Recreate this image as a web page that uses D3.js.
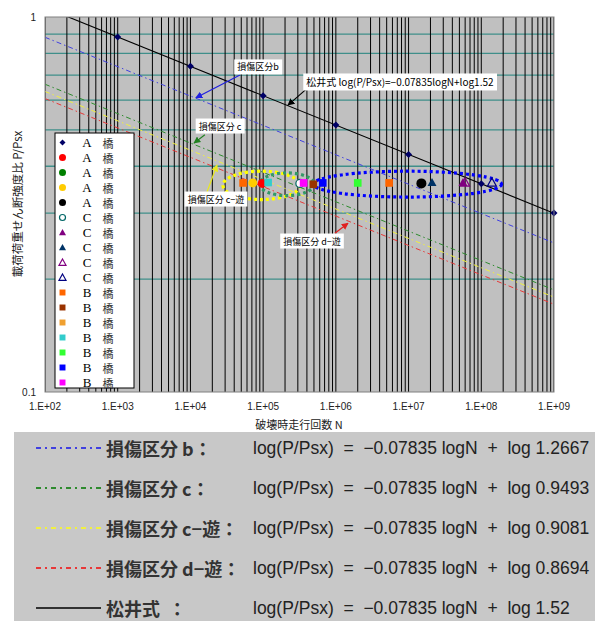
<!DOCTYPE html>
<html><head><meta charset="utf-8">
<script src="https://cdn.jsdelivr.net/npm/d3@7"></script>
<style>body{margin:0;background:#fff}svg{display:block}</style>
</head><body>
<svg id="chart" width="595" height="621"></svg>
<script>
// ---------------- data ----------------
const xTickValues = [1e2, 1e3, 1e4, 1e5, 1e6, 1e7, 1e8, 1e9];
const xTickLabels = ["1.E+02", "1.E+03", "1.E+04", "1.E+05", "1.E+06", "1.E+07", "1.E+08", "1.E+09"];
const yTickValues = [0.1, 1];
const yTickLabels = ["0.1", "1"];
const yGridValues = [0.2, 0.3, 0.4, 0.5, 0.6, 0.7, 0.8, 0.9];

const slope = -0.07835;
const lineNames = ["損傷区分 b", "損傷区分 c", "損傷区分 c−遊", "損傷区分 d−遊", "松井式  "];
const lineCoefs = [1.2667, 0.9493, 0.9081, 0.8694, 1.52];
const lineCoefLabels = ["1.2667", "0.9493", "0.9081", "0.8694", "1.52"];
const lineRangeN = [1e2, 1e9];

// Matsui marker points (legend series 1, "A 橋")
const matsuiN = [1e3, 1e4, 1e5, 1e6, 1e7, 1e8, 1e9];
const matsuiP = [0.885, 0.739, 0.617, 0.515, 0.430, 0.359, 0.300];

const legendBridge = ["A", "A", "A", "A", "A", "C", "C", "C", "C", "C", "B", "B", "B", "B", "B", "B", "B"];

// scatter points: series index (into legend), N, P
const pointSeries = [10, 3, 1, 13, 5, 16, 11, 15, 14, 10, 4, 7, 6, 8, 9];
const pointN = [5.3e4, 7.2e4, 9.7e4, 1.17e5, 3.2e5, 3.6e5, 4.9e5, 6.6e5, 2.0e6, 5.4e6, 1.5e7, 2.1e7, 5.6e7, 6.0e7, 1.4e8];
const pointP = [0.361, 0.361, 0.360, 0.362, 0.360, 0.361, 0.358, 0.361, 0.361, 0.361, 0.360, 0.362, 0.362, 0.362, 0.362];

// dotted group ellipses (N range, P range)
const ellipseN = [[2.8e4, 3.2e5], [9.0e4, 5.0e5], [4.9e5, 1.9e8]];
const ellipseP = [[0.326, 0.388], [0.334, 0.384], [0.331, 0.388]];

// annotation callouts: text, text centre (N,P), arrow start (N,P), arrow tip (N,P)
const annText = ["損傷区分b", "損傷区分 c", "損傷区分 c−遊", "損傷区分 d−遊", "松井式 log(P/Psx)=−0.07835logN+log1.52"];
const annAt = [[8.5e4, 0.736], [2.55e4, 0.512], [2.25e4, 0.327], [4.7e5, 0.2527], [7.6e6, 0.671]];
const annFrom = [[4.8e4, 0.700], [1.58e4, 0.485], [1.69e4, 0.3415], [9.7e5, 0.265], [4.1e5, 0.647]];
const annTo = [[1.19e4, 0.609], [1.12e4, 0.461], [2.32e4, 0.403], [1.47e6, 0.282], [2.2e5, 0.582]];

// ---------------- styles ----------------
const lineColors = ["#4040e0", "#2e8b2e", "#f0f040", "#e83838", "#000000"];
const lineDash = ["5,3,1.5,3", "5,3,1.5,3", "5,3,1.5,3", "5,3,1.5,3", null];
const seriesShape = ["diamond", "circle", "circle", "circle", "circle", "ocircle", "triangle", "triangle", "otriangle", "otriangle",
  "square", "square", "square", "square", "square", "square", "square"];
const seriesColor = ["#000066", "#ff0000", "#008000", "#ffcc00", "#000000", "#006666", "#800080", "#003366", "#800080", "#000080",
  "#ff6600", "#993300", "#f0a030", "#33cccc", "#33ff33", "#0000ff", "#ff00ff"];
const ellipseColor = ["#ffff00", "#339966", "#0000ff"];
const annColor = ["#2020e0", "#208020", "#e8e820", "#e02020", "#000000"];

// ---------------- chart ----------------
const svg = d3.select("#chart");
const L = 45, R = 554, T = 17, B = 392;
const x = d3.scaleLog().domain([1e2, 1e9]).range([L, R]);
const y = d3.scaleLog().domain([0.1, 1]).range([B, T]);

const defs = svg.append("defs");
defs.append("clipPath").attr("id", "plotclip").append("rect")
  .attr("x", L).attr("y", T).attr("width", R - L).attr("height", B - T);
annColor.forEach((c, i) => {
  defs.append("marker").attr("id", "arr" + i).attr("viewBox", "0 0 10 10")
    .attr("refX", 9).attr("refY", 5).attr("markerWidth", 7).attr("markerHeight", 7)
    .attr("markerUnits", "userSpaceOnUse").attr("orient", "auto")
    .append("path").attr("d", "M0,0L10,5L0,10Z").attr("fill", c);
});

svg.append("rect").attr("x", L).attr("y", T).attr("width", R - L).attr("height", B - T).attr("fill", "#c0c0c0");

const plot = svg.append("g").attr("clip-path", "url(#plotclip)");

// horizontal teal grid
plot.selectAll(".hg").data(yGridValues).join("line")
  .attr("x1", L).attr("x2", R).attr("y1", d => y(d)).attr("y2", d => y(d))
  .attr("stroke", "#3f8f8a").attr("stroke-width", 1.3);

// vertical black grid (log minor + major)
const vGrid = [];
for (let e = 2; e < 9; e++) for (let k = 1; k <= 9; k++) vGrid.push(k * Math.pow(10, e));
vGrid.push(1e9);
plot.selectAll(".vg").data(vGrid).join("line")
  .attr("x1", d => x(d)).attr("x2", d => x(d)).attr("y1", T).attr("y2", B)
  .attr("stroke", "#000").attr("stroke-width", 1);

// regression lines
const lineGen = d3.line().x(d => x(d[0])).y(d => y(d[1]));
lineCoefs.forEach((c, i) => {
  const pts = lineRangeN.map(n => [n, c * Math.pow(n, slope)]);
  plot.append("path").attr("d", lineGen(pts)).attr("fill", "none")
    .attr("stroke", lineColors[i]).attr("stroke-width", i === 4 ? 1.1 : 1)
    .attr("stroke-dasharray", lineDash[i]);
});

// dotted ellipses
ellipseN.forEach((nr, i) => {
  const x0 = x(nr[0]), x1 = x(nr[1]), y0 = y(ellipseP[i][1]), y1 = y(ellipseP[i][0]);
  plot.append("ellipse").attr("cx", (x0 + x1) / 2).attr("cy", (y0 + y1) / 2)
    .attr("rx", (x1 - x0) / 2).attr("ry", (y1 - y0) / 2)
    .attr("fill", "none").attr("stroke", ellipseColor[i]).attr("stroke-width", 3.2)
    .attr("stroke-dasharray", "3,3");
});

// marker drawing
function drawMarker(g, shape, color, cx, cy, s) {
  if (shape === "diamond") {
    g.append("path").attr("d", `M${cx},${cy - s}L${cx + s},${cy}L${cx},${cy + s}L${cx - s},${cy}Z`).attr("fill", color);
  } else if (shape === "circle") {
    g.append("circle").attr("cx", cx).attr("cy", cy).attr("r", s).attr("fill", color);
  } else if (shape === "ocircle") {
    g.append("circle").attr("cx", cx).attr("cy", cy).attr("r", s - 0.5).attr("fill", "#fff").attr("stroke", color).attr("stroke-width", 1.2);
  } else if (shape === "triangle" || shape === "otriangle") {
    const p = `M${cx},${cy - s}L${cx + s},${cy + s * 0.8}L${cx - s},${cy + s * 0.8}Z`;
    if (shape === "triangle") g.append("path").attr("d", p).attr("fill", color);
    else g.append("path").attr("d", p).attr("fill", "none").attr("stroke", color).attr("stroke-width", 1.2);
  } else {
    g.append("rect").attr("x", cx - s * 0.85).attr("y", cy - s * 0.85).attr("width", s * 1.7).attr("height", s * 1.7).attr("fill", color);
  }
}

const pts = svg.append("g");
matsuiN.forEach((n, i) => drawMarker(pts, "diamond", seriesColor[0], x(n), y(matsuiP[i]), 3.5));
pointN.forEach((n, i) => {
  const s = pointSeries[i];
  const size = s === 4 ? 5 : 4.5;
  drawMarker(pts, seriesShape[s], seriesColor[s], x(n), y(pointP[i]), size);
});

// annotations
annText.forEach((t, i) => {
  svg.append("line").attr("x1", x(annFrom[i][0])).attr("y1", y(annFrom[i][1]))
    .attr("x2", x(annTo[i][0])).attr("y2", y(annTo[i][1]))
    .attr("stroke", annColor[i]).attr("stroke-width", 1.2).attr("marker-end", `url(#arr${i})`);
});
annText.forEach((t, i) => {
  const g = svg.append("g");
  const tx = g.append("text").attr("x", x(annAt[i][0])).attr("y", y(annAt[i][1]))
    .attr("text-anchor", "middle").attr("dominant-baseline", "central")
    .attr("font-family", "'Noto Sans CJK JP', 'Liberation Sans', sans-serif").attr("font-size", i === 4 ? 10 : 9)
    .attr("fill", "#000").text(t);
  const bb = tx.node().getBBox();
  g.insert("rect", "text").attr("x", bb.x - 3).attr("y", bb.y - 1).attr("width", bb.width + 6).attr("height", bb.height + 2).attr("fill", "#fff");
});

// plot border
svg.append("rect").attr("x", L).attr("y", T).attr("width", R - L).attr("height", B - T)
  .attr("fill", "none").attr("stroke", "#808080").attr("stroke-width", 1);

// legend
const lg = svg.append("g");
const lgX = 55, lgY = 133, lgW = 79, lgH = 255, lgStep = 15;
lg.append("rect").attr("x", lgX).attr("y", lgY).attr("width", lgW).attr("height", lgH)
  .attr("fill", "#fff").attr("stroke", "#000").attr("stroke-width", 1);
legendBridge.forEach((b, i) => {
  const cy = lgY + 9.5 + i * lgStep;
  drawMarker(lg, seriesShape[i], seriesColor[i], lgX + 7.5, cy, seriesShape[i] === "diamond" ? 3 : 3.5);
  lg.append("text").attr("x", lgX + 32).attr("y", cy).attr("dominant-baseline", "central").attr("text-anchor", "middle")
    .attr("font-family", "'Liberation Serif', serif").attr("font-size", 13).text(b);
  lg.append("text").attr("x", lgX + 53).attr("y", cy).attr("dominant-baseline", "central").attr("text-anchor", "middle")
    .attr("font-family", "'Noto Sans CJK JP', sans-serif").attr("font-size", 11).attr("fill", "#333").text("橋");
});

// axes labels
const axFont = "'Liberation Sans', 'DejaVu Sans', sans-serif";
svg.selectAll(".xl").data(xTickValues).join("text")
  .attr("x", d => x(d)).attr("y", 406).attr("text-anchor", "middle").attr("dominant-baseline", "central")
  .attr("font-family", axFont).attr("font-size", 10).attr("fill", "#222")
  .text((d, i) => xTickLabels[i]);
svg.selectAll(".yl").data(yTickValues).join("text")
  .attr("x", 36).attr("y", d => y(d)).attr("text-anchor", "end").attr("dominant-baseline", "central")
  .attr("font-family", axFont).attr("font-size", 10).attr("fill", "#222")
  .text((d, i) => yTickLabels[i]);
svg.append("text").attr("x", 299).attr("y", 424).attr("text-anchor", "middle").attr("dominant-baseline", "central")
  .attr("font-family", "'Noto Sans CJK JP', sans-serif").attr("font-size", 11).attr("fill", "#222").text("破壊時走行回数 N");
svg.append("text").attr("transform", "translate(17,204) rotate(-90)").attr("text-anchor", "middle").attr("dominant-baseline", "central")
  .attr("font-family", "'Noto Sans CJK JP', sans-serif").attr("font-size", 11.5).attr("fill", "#222").text("載荷荷重せん断強度比 P/Psx");

// ---------------- formula panel ----------------
const panel = svg.append("g");
panel.append("rect").attr("x", 14).attr("y", 432).attr("width", 581).attr("height", 189).attr("fill", "#c8c8c8");
const rowY0 = 448, rowStep = 40;
const f = "'Liberation Sans', Arial, sans-serif";
lineNames.forEach((nm, i) => {
  const cy = rowY0 + i * rowStep;
  panel.append("line").attr("x1", 36).attr("x2", 101).attr("y1", cy).attr("y2", cy)
    .attr("stroke", lineColors[i]).attr("stroke-width", i === 4 ? 1.3 : 2).attr("stroke-dasharray", i === 4 ? null : "5,4,2,4");
  panel.append("text").attr("x", 106).attr("y", cy).attr("dominant-baseline", "central").style("white-space", "pre")
    .attr("font-family", "'Noto Sans CJK JP', sans-serif").attr("font-size", 18).attr("font-weight", 700).attr("fill", "#333")
    .text(nm + "：");
  panel.append("text").attr("x", 253).attr("y", cy).attr("dominant-baseline", "central").style("white-space", "pre")
    .attr("font-family", f).attr("font-size", 17.5).attr("fill", "#222")
    .text("log(P/Psx)  =  −0.07835 logN  +  log " + lineCoefLabels[i]);
});
</script>
</body></html>
